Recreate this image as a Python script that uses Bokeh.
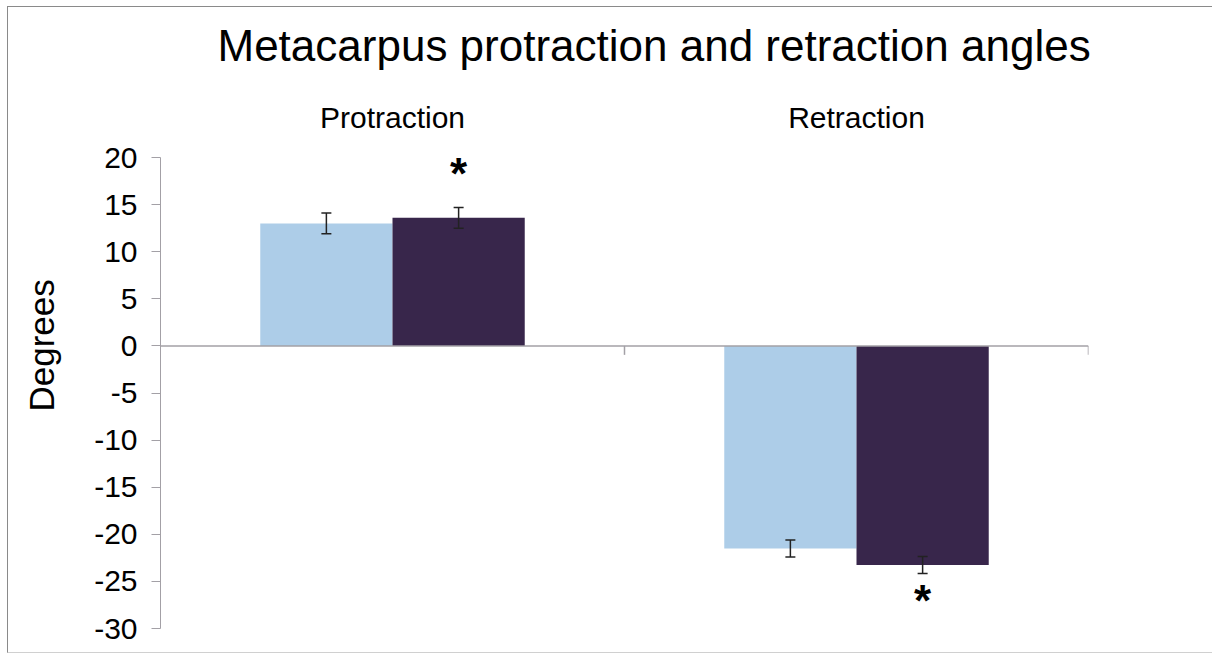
from bokeh.plotting import figure
from bokeh.models import (FactorRange, Range1d, FixedTicker, Span, Title,
                          Whisker, ColumnDataSource, TeeHead)
from bokeh.transform import dodge
from bokeh.embed import file_html
from bokeh.resources import INLINE
from bokeh.core.properties import value

# ---------------- data ----------------
categories = ["Protraction", "Retraction"]
light_values = [13.0, -21.5]
light_errors = [1.1, 0.9]
dark_values = [13.6, -23.25]
dark_errors = [1.1, 0.9]
dark_marks = ["*", "*"]
y_ticks = [-30, -25, -20, -15, -10, -5, 0, 5, 10, 15, 20]
title_text = "Metacarpus protraction and retraction angles"
y_label = "Degrees"

# ---------------- style ----------------
FONT = "Liberation Sans"
LIGHT = "#adcde8"
DARK = "#38264b"
AXIS = "#a3a0a6"
ERR = "#222222"
BAR_W = 0.285

p = figure(width=1205, height=647,
           x_range=FactorRange(*categories, range_padding=0, factor_padding=0),
           y_range=Range1d(-30, 20),
           x_axis_location="above",
           output_backend="svg", toolbar_location=None,
           min_border_left=152, min_border_right=125,
           min_border_top=150, min_border_bottom=26)
p.outline_line_color = None
p.xgrid.grid_line_color = None
p.ygrid.grid_line_color = None
p.background_fill_color = "white"
p.border_fill_color = "white"
p.styles = {"margin-top": "6px", "margin-left": "7px",
            "border-top": "1px solid #8a8a8a", "border-left": "1px solid #8a8a8a",
            "border-bottom": "1px solid #d0d0d0", "border-right": "0px none white"}

# title
p.title.text = title_text
p.title.align = "left"
p.title.offset = 57
p.title.vertical_align = "bottom"
p.title.text_font = FONT
p.title.text_font_size = "44px"
p.title.text_font_style = "normal"
p.title.text_color = "black"
p.title.standoff = 6

# y axis
ya = p.yaxis[0]
ya.ticker = FixedTicker(ticks=y_ticks)
ya.major_label_overrides = {t: str(t) for t in y_ticks}
ya.axis_line_color = AXIS
ya.major_tick_line_color = AXIS
ya.major_tick_out = 9
ya.major_tick_in = 0
ya.minor_tick_line_color = None
ya.major_label_text_font = FONT
ya.major_label_text_font_size = "30px"
ya.major_label_text_color = "black"
ya.major_label_standoff = 14
# blank spacer label: pushes the side title outward
ya.axis_label = " "
ya.axis_label_text_font_size = "10px"
ya.axis_label_standoff = 12

# y label as a side title (offset so it is centred where the original is)
p.add_layout(Title(text=y_label, align="left", offset=217, standoff=10,
                   vertical_align="bottom",
                   text_font=FONT, text_font_size="35px", text_font_style="normal",
                   text_color="black"), "left")

# category axis (labels above)
xa = p.xaxis[0]
xa.axis_line_color = None
xa.major_tick_line_color = None
xa.minor_tick_line_color = None
xa.major_label_text_font = FONT
xa.major_label_text_font_size = "30px"
xa.major_label_text_color = "black"
xa.major_label_standoff = 18
# blank spacer label: pushes the title upward
xa.axis_label = " "
xa.axis_label_text_font_size = "10px"
xa.axis_label_standoff = 11

# zero line with category-boundary ticks
p.add_layout(Span(location=0, dimension="width", line_color=AXIS, line_width=1.5))
bounds = [i + 1 for i in range(len(categories))]
p.segment(x0=bounds, y0=[0] * len(bounds), x1=bounds, y1=[-0.95] * len(bounds),
          line_color=AXIS, line_width=1.5)

src = ColumnDataSource(dict(
    cat=categories,
    light=light_values,
    dark=dark_values,
    light_up=[v + e for v, e in zip(light_values, light_errors)],
    light_lo=[v - e for v, e in zip(light_values, light_errors)],
    dark_up=[v + e for v, e in zip(dark_values, dark_errors)],
    dark_lo=[v - e for v, e in zip(dark_values, dark_errors)],
    mark=dark_marks,
    mark_y=[(v + e) if v > 0 else (v - e) for v, e in zip(dark_values, dark_errors)],
    mark_off=[-34 if v > 0 else 27 for v in dark_values],
))

p.vbar(x=dodge("cat", -BAR_W / 2, range=p.x_range), top="light", bottom=0,
       width=BAR_W, source=src, fill_color=LIGHT, line_color=None)
p.vbar(x=dodge("cat", BAR_W / 2, range=p.x_range), top="dark", bottom=0,
       width=BAR_W, source=src, fill_color=DARK, line_color=None)

for off, up, lo in [(-BAR_W / 2, "light_up", "light_lo"), (BAR_W / 2, "dark_up", "dark_lo")]:
    w = Whisker(base=dodge("cat", off, range=p.x_range), upper=up, lower=lo, source=src,
                line_color=ERR, line_width=1.5, level="overlay",
                upper_head=TeeHead(size=10, line_color=ERR, line_width=1.5),
                lower_head=TeeHead(size=10, line_color=ERR, line_width=1.5))
    p.add_layout(w)

p.text(x=dodge("cat", BAR_W / 2, range=p.x_range), y="mark_y", text="mark",
       y_offset="mark_off", source=src, text_align="center", text_baseline="middle",
       text_font=value(FONT), text_font_style="bold", text_font_size="44px",
       text_color="black")

open("out.html", "w").write(file_html(p, INLINE))
